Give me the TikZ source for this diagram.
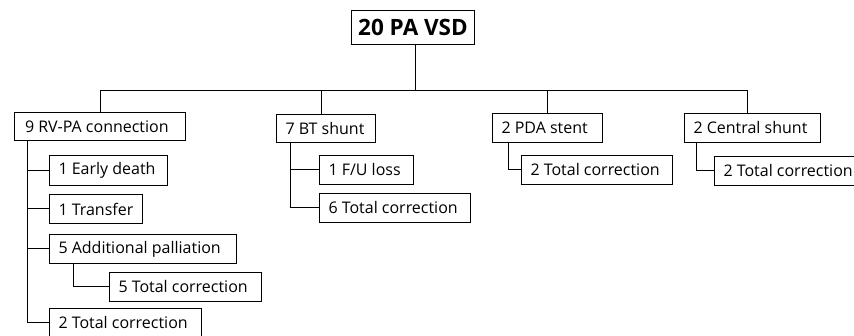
\documentclass[tikz,border=0pt]{standalone}
\usepackage{fontspec}
\setmainfont{Open Sans}
\begin{document}
\begin{tikzpicture}[x=1pt,y=-1pt,
  bx/.style={draw, line width=1pt, anchor=north west, inner xsep=9pt, inner ysep=0pt, font=\fontsize{16}{19}\selectfont},
  ln/.style={line width=1pt}]
\useasboundingbox (0,0) rectangle (854,336);
\clip (0,0) rectangle (854,336);
\node[draw, line width=1pt, anchor=north west, minimum width=123pt, minimum height=34pt, inner sep=0pt, font=\bfseries\fontsize{22.5}{25}\selectfont] (top) at (351,10) {20 PA VSD};
\node[bx, minimum height=28pt] (rv) at (14,112) {\makebox[153pt][l]{\hspace*{1.5pt}9 RV-PA connection}};
\node[bx, minimum height=28pt] (bt) at (276,114) {\makebox[81pt][l]{7 BT shunt}};
\node[bx, minimum height=29pt] (pda) at (492,113) {\makebox[92pt][l]{2 PDA stent}};
\node[bx, minimum height=29pt] (cs) at (684,113) {\makebox[118pt][l]{2 Central shunt}};
\node[bx, minimum height=30pt] (early) at (49,155) {\makebox[100pt][l]{1 Early death}};
\node[bx, minimum height=29pt] (transfer) at (49,194) {\makebox[75pt][l]{1 Transfer}};
\node[bx, minimum height=29pt] (addpal) at (49,234) {\makebox[169pt][l]{5 Additional palliation}};
\node[bx, minimum height=29pt] (tcfive) at (109,272) {\makebox[134pt][l]{5 Total correction}};
\node[bx, minimum height=29pt] (tctwo) at (49,308) {\makebox[134pt][l]{2 Total correction}};
\node[bx, minimum height=29pt] (fu) at (319,155) {\makebox[76pt][l]{1 F/U loss}};
\node[bx, minimum height=29pt] (tcsix) at (319,193) {\makebox[133pt][l]{6 Total correction}};
\node[bx, minimum height=29pt] (tcpda) at (521,155) {\makebox[133pt][l]{2 Total correction}};
\node[bx, minimum height=29pt] (tccs) at (714,156) {\makebox[133pt][l]{2 Total correction}};
\coordinate (bar) at (0,91);
\draw[ln] ([xshift=2pt]top.south) -- ([xshift=2pt]top.south |- bar);
\draw[ln] (rv.north |- bar) -- ([xshift=-5pt]cs.north |- bar);
\draw[ln] (rv.north |- bar) -- (rv.north);
\draw[ln] ([xshift=-4.5pt]bt.north |- bar) -- ([xshift=-4.5pt]bt.north);
\draw[ln] (pda.north |- bar) -- (pda.north);
\draw[ln] ([xshift=-5pt]cs.north |- bar) -- ([xshift=-5pt]cs.north);
\draw[ln] ([xshift=13pt]rv.south west) |- (tctwo.west);
\draw[ln] ([xshift=13pt]rv.south west |- early.west) -- (early.west);
\draw[ln] ([xshift=13pt]rv.south west |- transfer.west) -- (transfer.west);
\draw[ln] ([xshift=13pt]rv.south west |- addpal.west) -- (addpal.west);
\draw[ln] ([xshift=24pt]addpal.south west) |- (tcfive.west);
\draw[ln] ([xshift=14pt]bt.south west) |- (tcsix.west);
\draw[ln] ([xshift=14pt]bt.south west |- fu.west) -- (fu.west);
\draw[ln] ([xshift=16pt]pda.south west) |- (tcpda.west);
\draw[ln] ([xshift=12pt]cs.south west) |- (tccs.west);
\end{tikzpicture}
\end{document}
